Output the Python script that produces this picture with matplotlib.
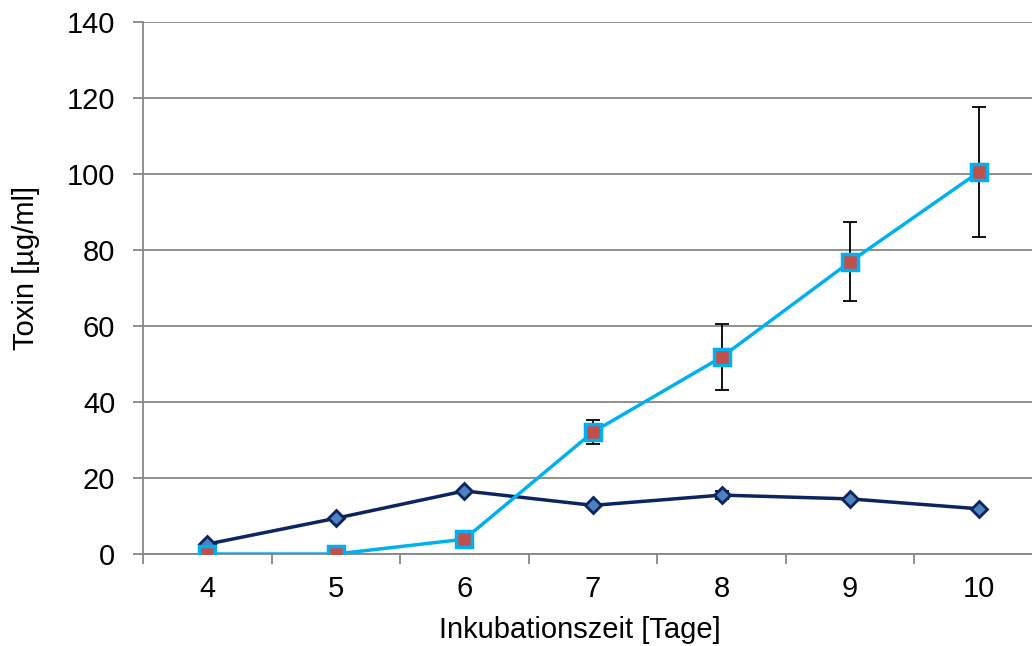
import matplotlib
matplotlib.use("Agg")
import matplotlib.pyplot as plt
import numpy as np

days = [4, 5, 6, 7, 8, 9, 10]
series_dark = [2.6, 9.4, 16.6, 12.8, 15.5, 14.5, 11.9]
series_dark_err = [0, 0, 0, 0, 1.0, 0, 0]
series_light = [0.0, 0.0, 3.9, 32.1, 51.8, 76.9, 100.5]
series_light_err = [0, 0, 0, 3.1, 8.6, 10.4, 17.2]
yticks = [0, 20, 40, 60, 80, 100, 120, 140]

plt.rcParams['font.family'] = ['Liberation Sans', 'DejaVu Sans']
FS = 21

fig = plt.figure(figsize=(10.32, 6.46), dpi=100)
W, H = 1032, 646
left, right, top, bottom = 143, 1043, 22, 554
ax = fig.add_axes([left / W, 1 - bottom / H, (right - left) / W, (bottom - top) / H])

x = np.array(days)
ax.errorbar(x, series_dark, yerr=series_dark_err, fmt='none', ecolor='black',
            elinewidth=1.3, capsize=5, capthick=1.3, zorder=2)
ax.plot(x, series_dark, color='#0c2461', lw=2.5, marker='D', markersize=8,
        markerfacecolor='#4f81bd', markeredgecolor='#0c2461', markeredgewidth=2, zorder=3)
ax.errorbar(x, series_light, yerr=series_light_err, fmt='none', ecolor='black',
            elinewidth=1.3, capsize=5, capthick=1.3, zorder=2)
ax.plot(x, series_light, color='#00b0f0', lw=2.5, marker='s', markersize=11,
        markerfacecolor='#c0504d', markeredgecolor='#00b0f0', markeredgewidth=2.5, zorder=4)

ax.set_xlim(days[0] - 0.5, days[-1] + 0.5)
ax.set_ylim(yticks[0], yticks[-1])
ax.set_yticks(yticks)
ax.set_xticks(days)
ax.set_xticks(np.arange(days[0] - 0.5, days[-1] + 1, 1.0), minor=True)
ax.tick_params(axis='x', which='major', length=0, pad=15, labelsize=FS)
ax.tick_params(axis='x', which='minor', length=7, width=1.3, color='#868686', direction='out')
ax.tick_params(axis='y', which='major', length=7, width=1.3, color='#868686', pad=13, labelsize=FS)
ax.grid(axis='y', color='#868686', lw=1.3)
ax.set_axisbelow(True)
for s in ['top', 'right']:
    ax.spines[s].set_visible(False)
for s in ['left', 'bottom']:
    ax.spines[s].set_color('#868686')
    ax.spines[s].set_linewidth(1.3)

xl = ax.set_xlabel('Inkubationszeit [Tage]', fontsize=FS, va='center')
yl = ax.set_ylabel('Toxin [µg/ml]', fontsize=FS, va='center')
ax.xaxis.set_label_coords((580 - left) / (right - left), (bottom - 630) / (bottom - top))
ax.yaxis.set_label_coords((26 - left) / (right - left), (bottom - 268) / (bottom - top))

fig.savefig('out.png', dpi=100)
